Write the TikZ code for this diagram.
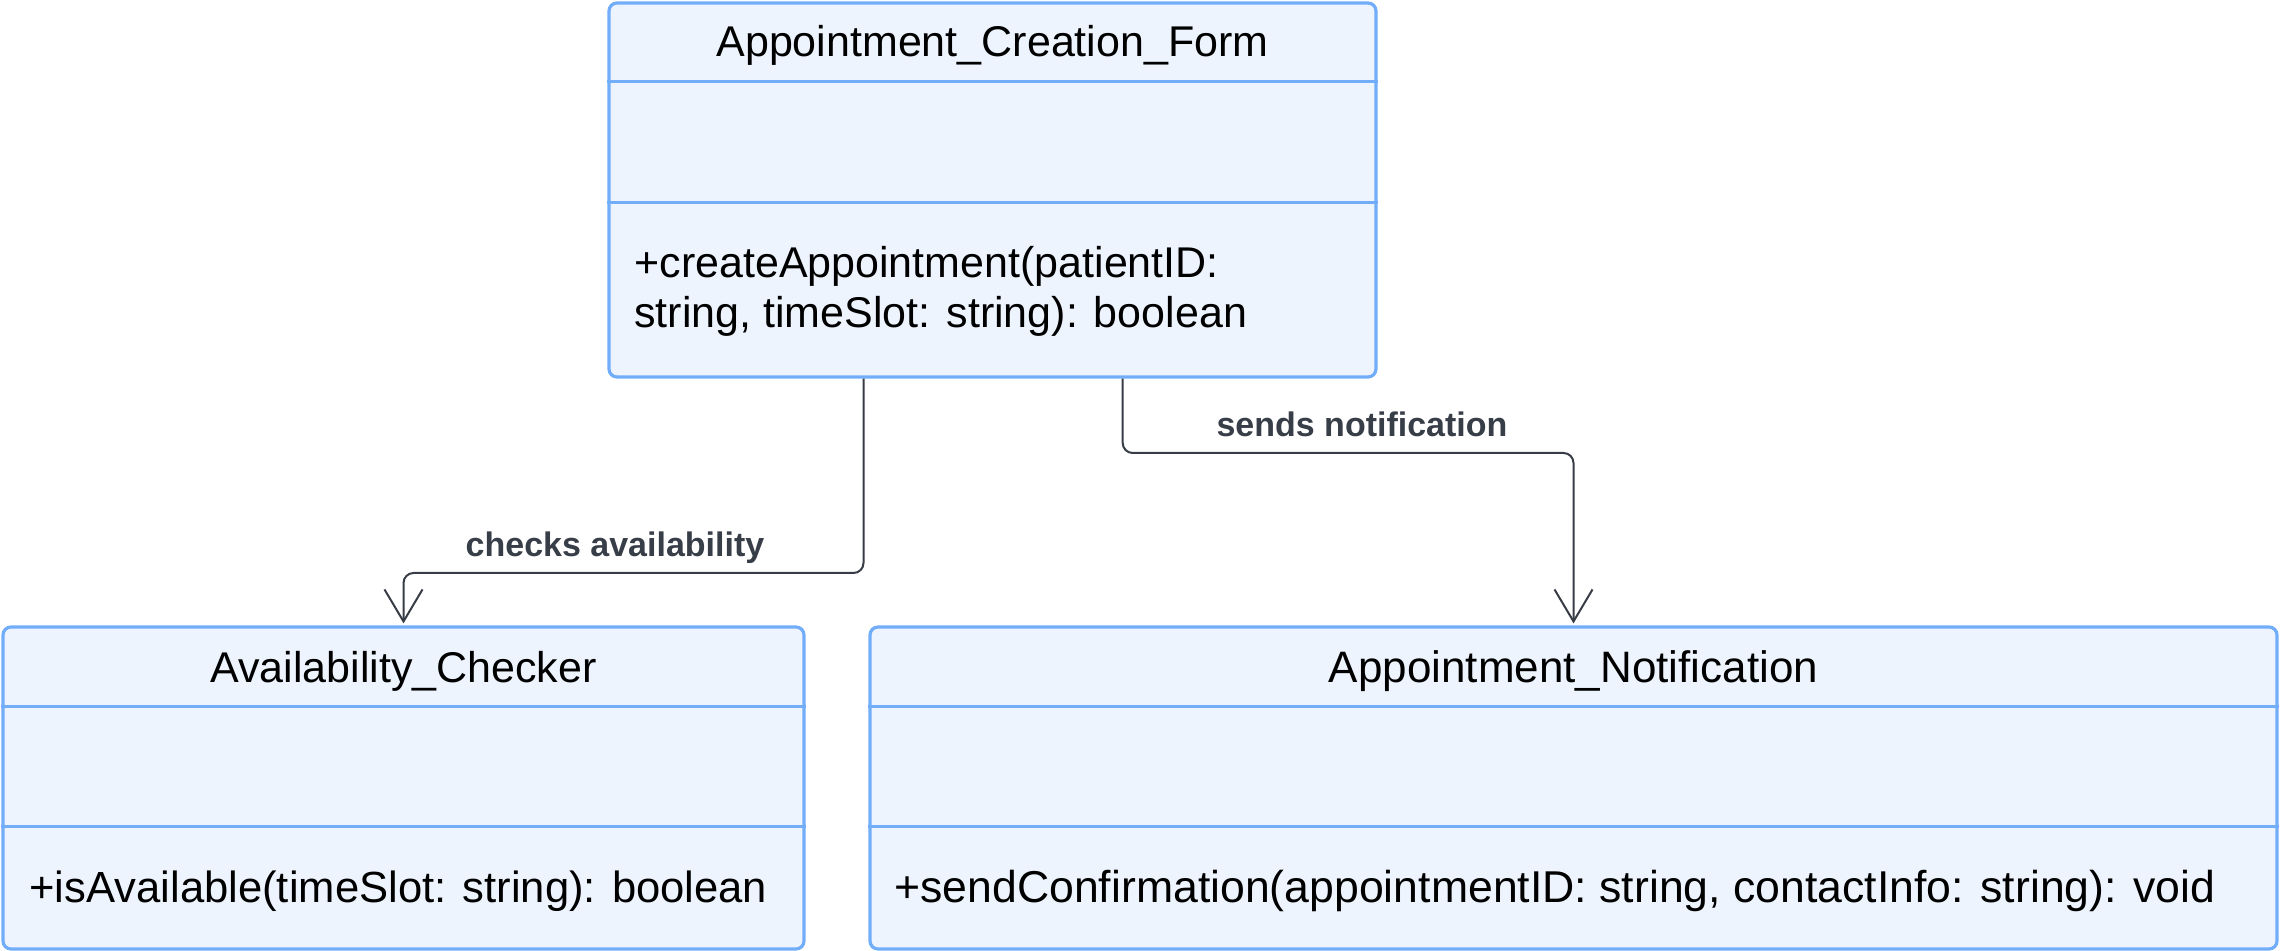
\documentclass[tikz,border=0pt]{standalone}
\usepackage{fontspec}
\setmainfont{Liberation Sans}
\usetikzlibrary{arrows.meta,calc}
\definecolor{boxfill}{HTML}{EDF4FE}
\definecolor{boxline}{HTML}{72ADFA}
\definecolor{connc}{HTML}{373C45}
\definecolor{labc}{HTML}{383E48}
\begin{document}
\begin{tikzpicture}[x=0.5pt,y=-0.5pt,
  classbox/.style={draw=boxline, fill=boxfill, line width=1.6pt, rounded corners=4pt, inner sep=0pt},
  divider/.style={draw=boxline, line width=1.6pt},
  title/.style={font=\fontsize{21.5}{26}\selectfont, text=black, inner sep=0pt, anchor=base},
  member/.style={font=\fontsize{21.5}{25}\selectfont, text=black, inner sep=0pt, anchor=base west},
  conn/.style={draw=connc, line width=1pt, rounded corners=5pt, shorten >=1pt, -{Straight Barb[length=16pt,width=19pt]}},
  lab/.style={font=\fontsize{17}{20}\selectfont\bfseries, text=labc, inner sep=0pt, anchor=base}]
\useasboundingbox (0,0) rectangle (2280,951);
% class boxes
\node[classbox, minimum width=383.5pt, minimum height=187pt] (acf) at (992.5,190) {};
\node[classbox, minimum width=400.5pt, minimum height=161pt] (av) at (403.5,788) {};
\node[classbox, minimum width=703.5pt, minimum height=161pt] (an) at (1573.5,788) {};
% dividers
\draw[divider] ([yshift=-40pt]acf.north west) -- ([yshift=-40pt]acf.north east);
\draw[divider] ([yshift=-100.5pt]acf.north west) -- ([yshift=-100.5pt]acf.north east);
\draw[divider] ([yshift=-40.5pt]av.north west) -- ([yshift=-40.5pt]av.north east);
\draw[divider] ([yshift=-100.5pt]av.north west) -- ([yshift=-100.5pt]av.north east);
\draw[divider] ([yshift=-40.5pt]an.north west) -- ([yshift=-40.5pt]an.north east);
\draw[divider] ([yshift=-100.5pt]an.north west) -- ([yshift=-100.5pt]an.north east);
% texts
\node[title] (acft) at (992.5,57) {Appointment\_Creation\_Form};
\node[member] (acfm1) at (634,278) {+createAppointment(patientID:};
\node[member] (acfm2) at (634,328) {string, timeSlot: string): boolean};
\node[title] (avt) at (403.5,682) {Availability\_Checker};
\node[member, font=\fontsize{21.8}{25}\selectfont] (avm) at (29,902) {+isAvailable(timeSlot: string): boolean};
\node[title, font=\fontsize{22}{26}\selectfont] (ant) at (1573.5,682) {Appointment\_Notification};
\node[member, font=\fontsize{22.3}{25}\selectfont] (anm) at (894,902) {+sendConfirmation(appointmentID: string, contactInfo: string): void};
% connectors
\coordinate (s1) at ($(acf.south west)!0.3325!(acf.south east)$);
\coordinate (s2) at ($(acf.south west)!0.669!(acf.south east)$);
\coordinate (k1) at (0,573);
\coordinate (k2) at (0,453);
\draw[conn] (s1) |- (av.north |- k1) -- (av.north);
\draw[conn] (s2) |- (an.north |- k2) -- (an.north);
\node[lab] (l1) at (615,557) {checks availability};
\node[lab] (l2) at (1362,437) {sends notification};
\end{tikzpicture}
\end{document}
